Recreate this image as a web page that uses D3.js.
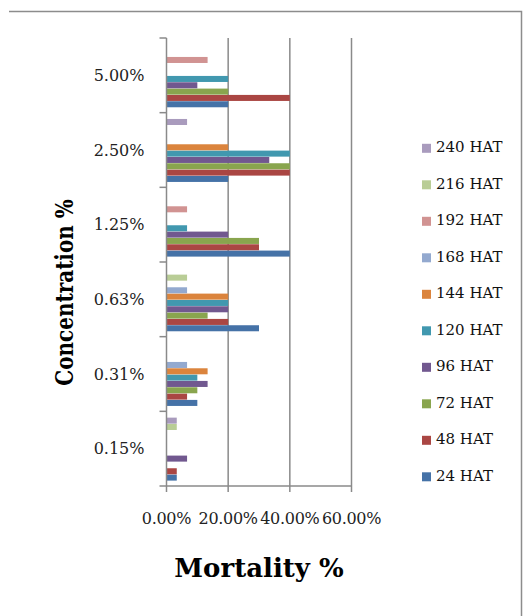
<!DOCTYPE html>
<html><head><meta charset="utf-8">
<script src="https://cdn.jsdelivr.net/npm/d3@7"></script>
<style>
html,body{margin:0;padding:0;background:#fff;}
svg{display:block;}
</style></head>
<body>
<svg id="chart" width="532" height="616"></svg>
<script>
// Data
const categories = ["5.00%", "2.50%", "1.25%", "0.63%", "0.31%", "0.15%"];
const seriesNames = ["24 HAT","48 HAT","72 HAT","96 HAT","120 HAT","144 HAT","168 HAT","192 HAT","216 HAT","240 HAT"];
const seriesColors = ["#4572A7","#AA4643","#89A54E","#71588F","#4198AF","#DB843D","#93A9CF","#D19392","#B9CD96","#A99BBD"];
// values per series, in category order (5.00% ... 0.15%), mortality fraction
const hat24  = [0.20, 0.20, 0.40, 0.30, 0.10, 0.0333];
const hat48  = [0.40, 0.40, 0.30, 0.20, 0.0667, 0.0333];
const hat72  = [0.20, 0.40, 0.30, 0.1333, 0.10, 0];
const hat96  = [0.10, 0.3333, 0.20, 0.20, 0.1333, 0.0667];
const hat120 = [0.20, 0.40, 0.0667, 0.20, 0.10, 0];
const hat144 = [0, 0.20, 0, 0.20, 0.1333, 0];
const hat168 = [0, 0, 0, 0.0667, 0.0667, 0];
const hat192 = [0.1333, 0, 0.0667, 0, 0, 0];
const hat216 = [0, 0, 0, 0.0667, 0, 0.0333];
const hat240 = [0, 0.0667, 0, 0, 0, 0.0333];
const xTicks = [0, 0.2, 0.4, 0.6];

const seriesValues = [hat24, hat48, hat72, hat96, hat120, hat144, hat168, hat192, hat216, hat240];

const svg = d3.select("#chart");
const serif = "'DejaVu Serif', 'Liberation Serif', serif";

// frame (top and right border)
svg.append("path").attr("d","M9,11.5H521.5V616").attr("fill","none").attr("stroke","#8c8c8c").attr("stroke-width",1.5);

const x = d3.scaleLinear().domain([0, 0.6]).range([166.5, 351.5]);
const y = d3.scaleBand().domain(categories).range([38, 486]).padding(0);
const inner = d3.scaleBand().domain(seriesNames.slice().reverse()).range([0, y.bandwidth()]).paddingInner(0.0).paddingOuter(0.9);

// gridlines
svg.append("g").selectAll("line").data(xTicks.slice(1)).join("line")
  .attr("x1", d => x(d)).attr("x2", d => x(d))
  .attr("y1", 38).attr("y2", 486)
  .attr("stroke", "#8a8a8a").attr("stroke-width", 1.5);

// bars
const groups = svg.append("g").selectAll("g").data(seriesNames).join("g")
  .attr("fill", (d,i) => seriesColors[i]);
groups.each(function(name, si){
  d3.select(this).selectAll("rect").data(seriesValues[si].map((v,ci)=>({v, c: categories[ci]})).filter(d=>d.v>0))
    .join("rect")
    .attr("x", x(0))
    .attr("y", d => y(d.c) + inner(name) + 0.6)
    .attr("width", d => x(d.v) - x(0))
    .attr("height", inner.bandwidth() - 0.3);
});

// y axis
const yAxisG = svg.append("g");
yAxisG.append("line").attr("x1", x(0)).attr("x2", x(0)).attr("y1", 38).attr("y2", 486)
  .attr("stroke", "#8a8a8a").attr("stroke-width", 1.5);
const bounds = categories.map(c => y(c)).concat([486]);
yAxisG.selectAll("line.tk").data(bounds).join("line").attr("class","tk")
  .attr("x1", x(0) - 7).attr("x2", x(0)).attr("y1", d => d).attr("y2", d => d)
  .attr("stroke", "#8a8a8a").attr("stroke-width", 1.5);
yAxisG.selectAll("text").data(categories).join("text")
  .attr("x", 144.5).attr("y", d => y(d) + y.bandwidth()/2 + 1)
  .attr("text-anchor","end").attr("dominant-baseline","middle")
  .attr("font-family", serif).attr("font-size", 16).attr("fill","#222")
  .text(d => d);

// x axis
const xAxisG = svg.append("g");
xAxisG.append("line").attr("x1", x(0)).attr("x2", x(0.6)).attr("y1", 486).attr("y2", 486)
  .attr("stroke", "#8a8a8a").attr("stroke-width", 1.5);
xAxisG.selectAll("line.tk").data(xTicks).join("line").attr("class","tk")
  .attr("x1", d => x(d)).attr("x2", d => x(d)).attr("y1", 486).attr("y2", 492)
  .attr("stroke", "#8a8a8a").attr("stroke-width", 1.5);
const fmt = d3.format(".2%");
xAxisG.selectAll("text").data(xTicks).join("text")
  .attr("x", d => x(d)).attr("y", 524)
  .attr("text-anchor","middle")
  .attr("font-family", serif).attr("font-size", 16).attr("letter-spacing", -0.3).attr("fill","#222")
  .text(d => fmt(d));

// axis titles
svg.append("text").attr("x", 259).attr("y", 577).attr("text-anchor","middle")
  .attr("font-family", serif).attr("font-weight","bold").attr("font-size", 26).attr("fill","#000")
  .text("Mortality %");
svg.append("text").attr("transform","translate(72.5,292.5) rotate(-90) scale(0.8,1)").attr("text-anchor","middle")
  .attr("font-family", serif).attr("font-weight","bold").attr("font-size", 25).attr("fill","#000")
  .text("Concentration %");

// legend
const legendNames = seriesNames.slice().reverse();
const leg = svg.append("g").selectAll("g").data(legendNames).join("g")
  .attr("transform", (d,i) => `translate(422, ${148.3 + i*36.5})`);
leg.append("rect").attr("x", 0).attr("y", -4.5).attr("width", 9).attr("height", 9)
  .attr("fill", d => seriesColors[seriesNames.indexOf(d)]);
leg.append("text").attr("x", 14).attr("y", 0).attr("dominant-baseline","middle")
  .attr("font-family", serif).attr("font-size", 15).attr("fill","#111")
  .text(d => d);
</script>
</body></html>
